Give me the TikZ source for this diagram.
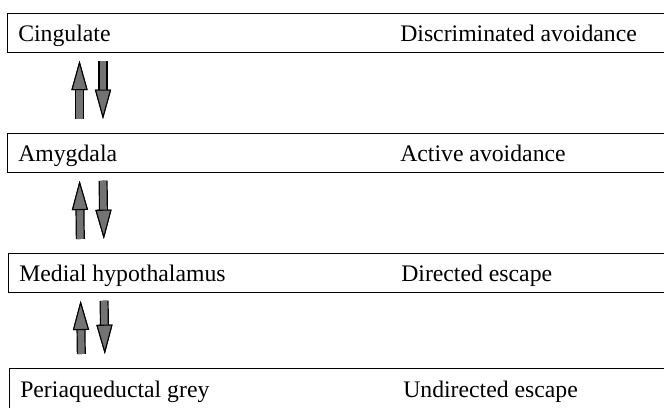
\documentclass[tikz,border=0pt]{standalone}
\usepackage{fontspec}
\setmainfont{Liberation Serif}
\usetikzlibrary{arrows.meta}

\begin{document}
\begin{tikzpicture}[x=0.75pt,y=-0.75pt,
    regbox/.style={draw, line width=0.8pt, rectangle, minimum width=497pt, minimum height=29pt, inner sep=0pt, anchor=north west},
    region/.style={anchor=base west, inner sep=0pt, font=\fontsize{17.8}{21}\selectfont},
    fatarr/.style={line width=5pt, draw=black!55, -{Triangle[width=12pt,length=22pt,line width=0.8pt,color=black,fill=black!55]},
      preaction={draw=black, line width=6.8pt}}]
    \useasboundingbox (0,0) rectangle (664,407);
    \clip (0,0) rectangle (664,407);
    % boxes, top to bottom
    \node[regbox] (cing) at (7,13) {};
    \node[regbox] (amyg) at (7,133) {};
    \node[regbox] (mhyp) at (8,253) {};
    \node[regbox, minimum height=45pt] (pag) at (9,368) {};
    % region names and behaviour
    \node[region] (cingname) at ([shift={(11,28)}]cing.north west) {Cingulate};
    \node[region] (cingbeh) at ([shift={(393,28)}]cing.north west) {Discriminated avoidance};
    \node[region] (amygname) at ([shift={(11,28)}]amyg.north west) {Amygdala};
    \node[region] (amygbeh) at ([shift={(393,28)}]amyg.north west) {Active avoidance};
    \node[region] (mhypname) at ([shift={(11,28)}]mhyp.north west) {Medial hypothalamus};
    \node[region] (mhypbeh) at ([shift={(393,28)}]mhyp.north west) {Directed escape};
    \node[region] (pagname) at ([shift={(11,29)}]pag.north west) {Periaqueductal grey};
    \node[region] (pagbeh) at ([shift={(394,29)}]pag.north west) {Undirected escape};
    % up and down arrows between levels
    \foreach \lo/\hi in {amyg/cing, mhyp/amyg, pag/mhyp} {
      \draw[fatarr, shorten <=10.5pt, shorten >=6pt] ([shift={(72.5,0)}]\lo.north west) -- ([shift={(72.5,0)}]\hi.south west);
      \draw[fatarr, shorten <=6pt, shorten >=10.5pt] ([shift={(96,0)}]\hi.south west) -- ([shift={(96,0)}]\lo.north west);
    }
\end{tikzpicture}
\end{document}
